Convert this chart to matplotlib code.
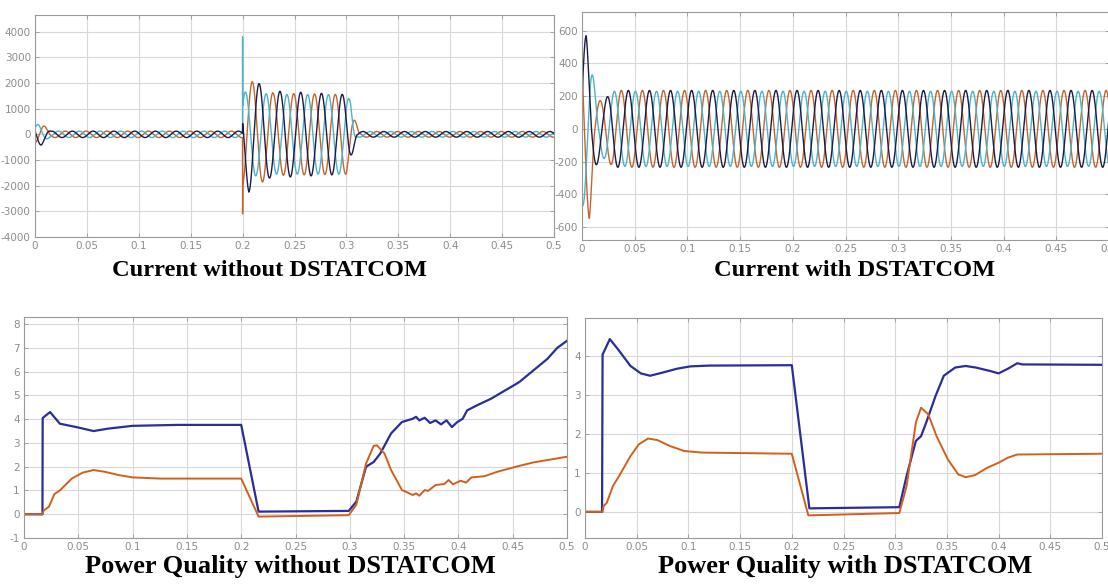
import numpy as np
import matplotlib.pyplot as plt

# --- data ---
f_grid = 50.0                       # Hz, supply frequency
t = np.linspace(0, 0.5, 5001)

# current without DSTATCOM: envelope breakpoints (s, A) and phase offsets (s)
cw_phase = {"navy": 0.011, "cyan": 0.0177, "orange": 0.0043}
cw_env_t = {
    "navy":   [0, 0.006, 0.015, 0.1999, 0.2001, 0.206, 0.226, 0.3, 0.31, 0.5],
    "orange": [0, 0.008, 0.016, 0.1999, 0.2001, 0.211, 0.23, 0.3, 0.312, 0.5],
    "cyan":   [0, 0.004, 0.014, 0.1999, 0.2001, 0.205, 0.23, 0.3, 0.304, 0.31, 0.5],
}
cw_env_a = {
    "navy":   [420, 420, 125, 125, 1500, 2250, 1700, 1550, 110, 110],
    "orange": [350, 350, 125, 125, 2050, 2050, 1600, 1550, 110, 110],
    "cyan":   [380, 380, 125, 125, 1650, 1650, 1550, 1550, 1300, 110, 110],
}
cw_spike = {"cyan": (0.2, 3800), "orange": (0.2, -3100)}

# current with DSTATCOM
cd_phase = {"navy": 0.019, "cyan": 0.0057, "orange": 0.0123}
cd_env_t = {
    "navy":   [0, 0.004, 0.01, 0.02, 0.03, 0.5],
    "orange": [0, 0.007, 0.012, 0.02, 0.03, 0.5],
    "cyan":   [0, 0.002, 0.008, 0.015, 0.03, 0.5],
}
cd_env_a = {
    "navy":   [570, 570, 250, 170, 235, 235],
    "orange": [550, 550, 180, 170, 235, 235],
    "cyan":   [470, 470, 410, 150, 230, 230],
}

# power quality without DSTATCOM
pq0_t_blue = [0, 0.017, 0.0172, 0.024, 0.033, 0.05, 0.064, 0.077, 0.1, 0.142, 0.2,
              0.216, 0.299, 0.306, 0.315, 0.322, 0.328, 0.338, 0.348, 0.358, 0.361,
              0.364, 0.369, 0.374, 0.379, 0.384, 0.389, 0.394, 0.399, 0.404, 0.408,
              0.417, 0.43, 0.443, 0.456, 0.469, 0.482, 0.491, 0.5]
pq0_v_blue = [0, 0, 4.05, 4.3, 3.81, 3.65, 3.5, 3.6, 3.72, 3.76, 3.76,
              0.11, 0.14, 0.53, 2.0, 2.2, 2.55, 3.4, 3.88, 4.02, 4.1,
              3.95, 4.06, 3.84, 3.95, 3.78, 3.95, 3.67, 3.88, 4.02, 4.37,
              4.58, 4.86, 5.21, 5.56, 6.05, 6.54, 7.0, 7.3]
pq0_t_orng = [0, 0.017, 0.018, 0.023, 0.028, 0.033, 0.044, 0.054, 0.064, 0.074, 0.087,
              0.1, 0.126, 0.2, 0.216, 0.299, 0.306, 0.315, 0.322, 0.325, 0.332, 0.338,
              0.348, 0.358, 0.361, 0.364, 0.369, 0.372, 0.379, 0.387, 0.391, 0.395,
              0.402, 0.407, 0.412, 0.424, 0.436, 0.453, 0.469, 0.491, 0.5]
pq0_v_orng = [0, 0, 0.15, 0.32, 0.85, 1.0, 1.5, 1.75, 1.86, 1.79, 1.65,
              1.55, 1.5, 1.5, -0.1, -0.04, 0.4, 2.14, 2.88, 2.9, 2.55, 1.86,
              1.02, 0.81, 0.88, 0.78, 1.02, 0.98, 1.23, 1.27, 1.44, 1.26,
              1.41, 1.33, 1.55, 1.6, 1.79, 2.0, 2.18, 2.35, 2.42]

# power quality with DSTATCOM
pq1_t_blue = [0, 0.0165, 0.017, 0.024, 0.033, 0.044, 0.054, 0.063, 0.075, 0.089, 0.102,
              0.12, 0.2, 0.217, 0.304, 0.311, 0.32, 0.325, 0.33, 0.339, 0.347, 0.358,
              0.368, 0.378, 0.392, 0.4, 0.409, 0.418, 0.423, 0.5]
pq1_v_blue = [0, 0, 4.03, 4.43, 4.13, 3.74, 3.55, 3.49, 3.57, 3.67, 3.73,
              3.75, 3.76, 0.09, 0.12, 0.92, 1.82, 1.94, 2.29, 2.97, 3.49, 3.7,
              3.74, 3.7, 3.61, 3.55, 3.67, 3.81, 3.78, 3.77]
pq1_t_orng = [0, 0.017, 0.018, 0.021, 0.027, 0.033, 0.044, 0.052, 0.061, 0.07, 0.082,
              0.096, 0.113, 0.2, 0.216, 0.304, 0.311, 0.32, 0.325, 0.332, 0.34, 0.351,
              0.361, 0.368, 0.377, 0.389, 0.4, 0.409, 0.418, 0.5]
pq1_v_orng = [0, 0, 0.15, 0.23, 0.66, 0.92, 1.43, 1.73, 1.88, 1.84, 1.69,
              1.56, 1.52, 1.49, -0.09, -0.03, 0.66, 2.29, 2.67, 2.5, 1.94, 1.34,
              0.96, 0.89, 0.94, 1.13, 1.26, 1.39, 1.47, 1.49]

x_ticks = [0, 0.05, 0.1, 0.15, 0.2, 0.25, 0.3, 0.35, 0.4, 0.45, 0.5]
x_labels = ["0", "0.05", "0.1", "0.15", "0.2", "0.25", "0.3", "0.35", "0.4", "0.45", "0.5"]

titles = ["Current without DSTATCOM", "Current with DSTATCOM",
          "Power Quality without DSTATCOM", "Power Quality with DSTATCOM"]

c_navy = "#1b1c48"
c_orange = "#c4652f"
c_cyan = "#4bb4c8"
c_blue = "#2a2d9c"
c_orng2 = "#d0601e"


def phase_wave(name, phase, env_t, env_a, spikes=None):
    y = np.interp(t, env_t[name], env_a[name]) * np.sin(2 * np.pi * f_grid * (t - phase[name]))
    if spikes and name in spikes:
        ts, vs = spikes[name]
        y[np.argmin(np.abs(t - ts))] = vs
    return y


def style(ax, yticks, ylim):
    ax.set_xlim(0, 0.5)
    ax.set_ylim(*ylim)
    ax.set_xticks(x_ticks)
    ax.set_xticklabels(x_labels)
    ax.set_yticks(yticks)
    ax.set_yticklabels(["%g" % v for v in yticks])
    ax.grid(True, color="#d8d8d8", linewidth=0.8)
    ax.set_axisbelow(True)
    ax.tick_params(direction="in", length=3, width=0.6, colors="#9a9a9a",
                   labelcolor="#8c8c8c", labelsize=7.5, pad=3,
                   top=True, right=True)
    for s in ax.spines.values():
        s.set_color("#9a9a9a")
        s.set_linewidth(0.8)


fig = plt.figure(figsize=(11.08, 5.85), dpi=100)
W, H = 1108.0, 585.0


def add_ax(x0, y0, x1, y1):
    return fig.add_axes([x0 / W, 1 - y1 / H, (x1 - x0) / W, (y1 - y0) / H])


ax1 = add_ax(35, 15, 554, 237)
ax2 = add_ax(582, 12, 1109, 240)
ax3 = add_ax(24, 317, 567, 538)
ax4 = add_ax(585, 318, 1102, 538)

for name, col in [("orange", c_orange), ("cyan", c_cyan), ("navy", c_navy)]:
    ax1.plot(t, phase_wave(name, cw_phase, cw_env_t, cw_env_a, cw_spike), color=col, linewidth=1.0)
    ax2.plot(t, phase_wave(name, cd_phase, cd_env_t, cd_env_a), color=col, linewidth=1.0)

style(ax1, list(range(-4000, 4001, 1000)), (-4000, 4650))
style(ax2, list(range(-600, 601, 200)), (-680, 715))

ax3.plot(pq0_t_blue, pq0_v_blue, color=c_blue, linewidth=1.6)
ax3.plot(pq0_t_orng, pq0_v_orng, color=c_orng2, linewidth=1.4)
style(ax3, list(range(-1, 9)), (-1, 8.3))

ax4.plot(pq1_t_blue, pq1_v_blue, color=c_blue, linewidth=1.6)
ax4.plot(pq1_t_orng, pq1_v_orng, color=c_orng2, linewidth=1.4)
style(ax4, list(range(0, 5)), (-0.67, 4.97))

tfont = dict(family="Liberation Serif", weight="bold", color="black",
             ha="center", va="center")
fig.text(270 / W, 1 - 270 / H, titles[0], fontsize=17.6, **tfont)
fig.text(855 / W, 1 - 270 / H, titles[1], fontsize=17.6, **tfont)
fig.text(290 / W, 1 - 567 / H, titles[2], fontsize=19, **tfont)
fig.text(845 / W, 1 - 567 / H, titles[3], fontsize=19, **tfont)

fig.savefig("out.png", dpi=100, facecolor="white")
